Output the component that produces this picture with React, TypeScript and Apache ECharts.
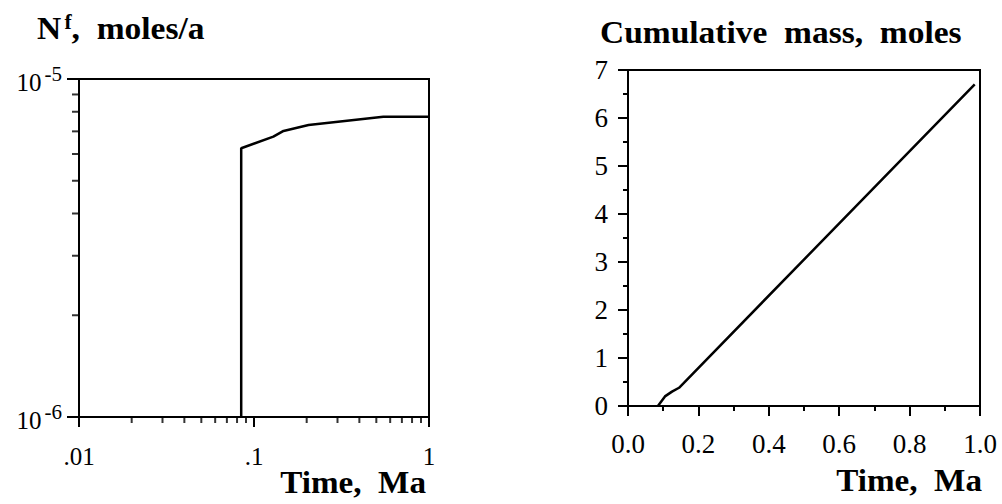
import React, { useEffect, useRef } from "react";
import * as echarts from "echarts";

const FONT = "'Liberation Serif', 'Times New Roman', serif";

// Left panel: flux N^f (moles/a) vs time (Ma), log-log
const leftTime = [0.0845, 0.0845, 0.129, 0.1475, 0.205, 0.548, 1.0];
const leftRate = [1.0e-6, 6.24e-6, 6.75e-6, 7.02e-6, 7.31e-6, 7.73e-6, 7.73e-6];
const leftXMinorTicks = [0.02, 0.03, 0.04, 0.05, 0.06, 0.07, 0.08, 0.09, 0.2, 0.3, 0.4, 0.5, 0.6, 0.7, 0.8, 0.9];
const leftYMinorTicks = [2e-6, 3e-6, 4e-6, 5e-6, 6e-6, 7e-6, 8e-6, 9e-6];
const leftXLabels: Record<string, string> = { "-2": ".01", "-1": ".1", "0": "1" };

// Right panel: cumulative mass (moles) vs time (Ma)
const rightTime = [0.085, 0.095, 0.105, 0.125, 0.145, 0.985];
const rightMass = [0, 0.1, 0.2, 0.3, 0.38, 6.7];

const lg = (v: number) => Math.log10(v);

export default function App() {
  const ref = useRef<HTMLDivElement>(null);

  useEffect(() => {
    document.body.style.margin = "0";
    const chart = echarts.init(ref.current!, null, { renderer: "svg" });

    const black = "#000";
    const axisLine = { show: true, onZero: false, lineStyle: { color: black, width: 2 } };
    const tick = (len: number) => ({ show: true, length: len, lineStyle: { color: black, width: 2 } });

    const option: any = {
      animation: false,
      grid: [
        { left: 79, top: 79, width: 350, height: 338, show: true, borderColor: black, borderWidth: 2 },
        { left: 628, top: 70, width: 352, height: 336, show: true, borderColor: black, borderWidth: 2 },
      ],
      xAxis: [
        {
          gridIndex: 0,
          type: "value",
          min: -2,
          max: 0,
          interval: 1,
          axisLine,
          axisTick: tick(10),
          splitLine: { show: false },
          axisLabel: {
            margin: 27,
            color: black,
            fontFamily: FONT,
            fontSize: 25,
            formatter: (v: number) => leftXLabels[String(Math.round(v))] ?? String(v),
          },
        },
        {
          gridIndex: 1,
          type: "value",
          min: 0,
          max: 1,
          interval: 0.2,
          axisLine,
          axisTick: tick(10),
          minorTick: { show: true, splitNumber: 2, length: 5, lineStyle: { color: black, width: 2 } },
          splitLine: { show: false },
          axisLabel: {
            margin: 24,
            color: black,
            fontFamily: FONT,
            fontSize: 27,
            formatter: (v: number) => v.toFixed(1),
          },
        },
      ],
      yAxis: [
        {
          gridIndex: 0,
          type: "value",
          min: -6,
          max: -5,
          interval: 1,
          axisLine,
          axisTick: tick(12),
          splitLine: { show: false },
          axisLabel: {
            margin: 17,
            color: black,
            formatter: (v: number) => `{b|10}{s|${Math.round(v)}}`,
            rich: {
              b: { fontFamily: FONT, fontSize: 25, color: black, lineHeight: 32, verticalAlign: "bottom" },
              s: { fontFamily: FONT, fontSize: 21, color: black, lineHeight: 32, verticalAlign: "top", padding: [0, 0, 0, 3] },
            },
          },
        },
        {
          gridIndex: 1,
          type: "value",
          min: 0,
          max: 7,
          interval: 1,
          axisLine,
          axisTick: tick(10),
          minorTick: { show: true, splitNumber: 2, length: 5, lineStyle: { color: black, width: 2 } },
          splitLine: { show: false },
          axisLabel: { margin: 20, color: black, fontFamily: FONT, fontSize: 27 },
        },
      ],
      graphic: [
        {
          type: "text",
          x: 37,
          y: 10,
          scaleX: 1.08,
          style: {
            text: "{n|N}{s|f}{n|,  moles/a}",
            rich: {
              n: { fontFamily: FONT, fontSize: 31, fontWeight: "bold", fill: black, lineHeight: 34, verticalAlign: "bottom" },
              s: { fontFamily: FONT, fontSize: 20, fontWeight: "bold", fill: black, lineHeight: 34, verticalAlign: "top", padding: [2, 0, 0, 3] },
            },
          },
        },
        {
          type: "text",
          x: 600,
          y: 17,
          scaleX: 1.08,
          style: { text: "Cumulative  mass,  moles", fontFamily: FONT, fontSize: 31, fontWeight: "bold", fill: black },
        },
        {
          type: "text",
          x: 426,
          y: 467,
          scaleX: 1.07,
          style: { text: "Time,  Ma", align: "right", fontFamily: FONT, fontSize: 31, fontWeight: "bold", fill: black },
        },
        {
          type: "text",
          x: 982,
          y: 465,
          scaleX: 1.07,
          style: { text: "Time,  Ma", align: "right", fontFamily: FONT, fontSize: 31, fontWeight: "bold", fill: black },
        },
      ],
      series: [
        {
          type: "line",
          xAxisIndex: 0,
          yAxisIndex: 0,
          data: leftTime.map((t, i) => [lg(t), lg(leftRate[i])]),
          showSymbol: false,
          symbol: "none",
          lineStyle: { color: black, width: 2.5 },
        },
        {
          type: "scatter",
          xAxisIndex: 0,
          yAxisIndex: 0,
          clip: false,
          silent: true,
          data: leftXMinorTicks.map((t) => [lg(t), -6]),
          symbol: "rect",
          symbolSize: [2, 6],
          symbolOffset: [0, 3],
          itemStyle: { color: black },
        },
        {
          type: "scatter",
          xAxisIndex: 0,
          yAxisIndex: 0,
          clip: false,
          silent: true,
          data: leftYMinorTicks.map((r) => [-2, lg(r)]),
          symbol: "rect",
          symbolSize: [7, 2],
          symbolOffset: [-3.5, 0],
          itemStyle: { color: black },
        },
        {
          type: "line",
          xAxisIndex: 1,
          yAxisIndex: 1,
          data: rightTime.map((t, i) => [t, rightMass[i]]),
          showSymbol: false,
          symbol: "none",
          lineStyle: { color: black, width: 2.5 },
        },
      ],
    };

    chart.setOption(option);
    return () => chart.dispose();
  }, []);

  return <div ref={ref} style={{ width: 1002, height: 504 }} />;
}
